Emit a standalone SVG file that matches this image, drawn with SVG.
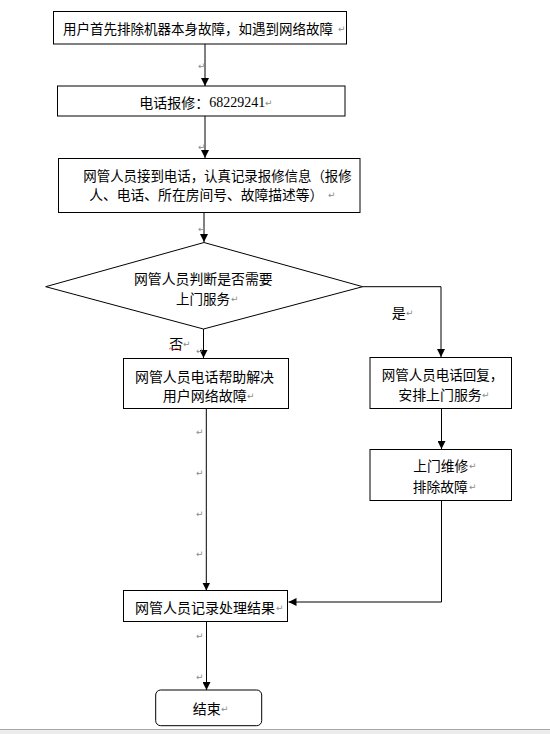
<svg xmlns="http://www.w3.org/2000/svg" width="550" height="734" viewBox="0 0 550 734">
<style>
.box{fill:#fff;stroke:#000;stroke-width:1}
.t{font-family:"Noto Sans CJK SC","Liberation Sans",sans-serif;font-size:14px;fill:#000;dominant-baseline:central}
.num{font-family:"Liberation Serif",serif}
.rm{font-family:"DejaVu Sans",sans-serif;font-size:9px;fill:#8c8c8c;dominant-baseline:central}
.c{fill:none;stroke:#000;stroke-width:1}
</style>
<defs>
<marker id="ah" markerUnits="userSpaceOnUse" markerWidth="8" markerHeight="8" refX="8" refY="4" orient="auto">
<path d="M0,0 L8,4 L0,8 z" fill="#000"/>
</marker>
</defs>
<rect x="0" y="0" width="550" height="734" fill="#fff"/>

<g id="connectors">
<line class="c" x1="205" y1="44" x2="205" y2="86" marker-end="url(#ah)"/>
<line class="c" x1="205" y1="116" x2="205" y2="158" marker-end="url(#ah)"/>
<line class="c" x1="204" y1="212.5" x2="204" y2="242" marker-end="url(#ah)"/>
<polyline class="c" points="362.7,286.7 441,286.7 441,357" marker-end="url(#ah)"/>
<line class="c" x1="203.5" y1="329" x2="203.5" y2="358" marker-end="url(#ah)"/>
<line class="c" x1="441.5" y1="408.5" x2="441.5" y2="449" marker-end="url(#ah)"/>
<line class="c" x1="206.3" y1="408.5" x2="206.3" y2="590.5" marker-end="url(#ah)"/>
<polyline class="c" points="441.5,500.5 441.5,602 288.5,602" marker-end="url(#ah)"/>
<line class="c" x1="206.5" y1="621.7" x2="206.5" y2="690" marker-end="url(#ah)"/>
<text class="t" x="391.7" y="312.3">是</text><text class="rm" x="406" y="313">↵</text>
<text class="t" x="169.3" y="342.7">否</text><text class="rm" x="183" y="343.5">↵</text>
<path d="M169,349 q1.5,-1.5 3,0 t3,0 t3,0 t3,0" fill="none" stroke="#e03030" stroke-width="0.8"/>
<text class="rm" x="196" y="351">↵</text>
<text class="rm" x="198" y="66">↵</text>
<text class="rm" x="198" y="147">↵</text>
<text class="rm" x="198" y="229">↵</text>
<text class="rm" x="196" y="432">↵</text>
<text class="rm" x="196" y="473">↵</text>
<text class="rm" x="196" y="513.5">↵</text>
<text class="rm" x="196" y="554">↵</text>
<text class="rm" x="196" y="636">↵</text>
<text class="rm" x="196" y="677">↵</text>
</g>

<g id="n1">
<rect class="box" x="53.5" y="11.5" width="293" height="32.5"/>
<text class="t" x="63" y="27.5" style="font-size:13.5px">用户首先排除机器本身故障，如遇到网络故障</text>
<text class="rm" x="338" y="28.5">↵</text>
</g>

<g id="n2">
<rect class="box" x="57.5" y="86" width="287.5" height="30"/>
<text class="t" x="139.3" y="101.7">电话报修：<tspan class="num">68229241</tspan></text>
<text class="rm" x="265" y="102.5">↵</text>
</g>

<g id="n3">
<rect class="box" x="58.5" y="158.5" width="301.5" height="54"/>
<text class="t" x="83.3" y="175" textLength="268.4" lengthAdjust="spacingAndGlyphs">网管人员接到电话，认真记录报修信息（报修</text>
<text class="t" x="89.3" y="194.3" textLength="234" lengthAdjust="spacingAndGlyphs">人、电话、所在房间号、故障描述等）</text>
<text class="rm" x="328" y="195">↵</text>
</g>

<g id="n4">
<polygon class="box" points="204,242.5 362.7,286.7 203.5,329 45.7,286.7"/>
<text class="t" x="134" y="278.3" textLength="138.7" lengthAdjust="spacingAndGlyphs">网管人员判断是否需要</text>
<text class="t" x="176" y="298.3" textLength="54" lengthAdjust="spacingAndGlyphs">上门服务</text>
<text class="rm" x="231" y="299">↵</text>
</g>

<g id="n5">
<rect class="box" x="123.5" y="358.5" width="165" height="50"/>
<text class="t" x="135" y="376" textLength="139" lengthAdjust="spacingAndGlyphs">网管人员电话帮助解决</text>
<text class="t" x="162.7" y="395" textLength="84" lengthAdjust="spacingAndGlyphs">用户网络故障</text>
<text class="rm" x="247" y="396">↵</text>
</g>

<g id="n6">
<rect class="box" x="370" y="357.5" width="141.5" height="51"/>
<text class="t" x="381.7" y="374" textLength="121.6" lengthAdjust="spacingAndGlyphs">网管人员电话回复，</text>
<text class="t" x="398.3" y="394" textLength="83.4" lengthAdjust="spacingAndGlyphs">安排上门服务</text>
<text class="rm" x="482" y="395">↵</text>
</g>

<g id="n7">
<rect class="box" x="370" y="449.5" width="141.5" height="51"/>
<text class="t" x="413.3" y="465" textLength="55" lengthAdjust="spacingAndGlyphs">上门维修</text>
<text class="rm" x="469" y="466">↵</text>
<text class="t" x="412.7" y="486" textLength="55" lengthAdjust="spacingAndGlyphs">排除故障</text>
<text class="rm" x="469" y="487">↵</text>
</g>

<g id="n8">
<rect class="box" x="123.5" y="590.5" width="164" height="31"/>
<text class="t" x="135" y="607.3" textLength="140" lengthAdjust="spacingAndGlyphs">网管人员记录处理结果</text>
<text class="rm" x="276" y="608">↵</text>
</g>

<g id="n9">
<rect class="box" x="155.7" y="690" width="106" height="35.7" rx="5" ry="5"/>
<text class="t" x="192.7" y="708.3" textLength="28" lengthAdjust="spacingAndGlyphs">结束</text>
<text class="rm" x="221" y="709">↵</text>
</g>

<rect x="0" y="729" width="550" height="5" fill="#ececec"/>
<line x1="0" y1="729.5" x2="550" y2="729.5" stroke="#a8a8a8" stroke-width="1"/>
</svg>
